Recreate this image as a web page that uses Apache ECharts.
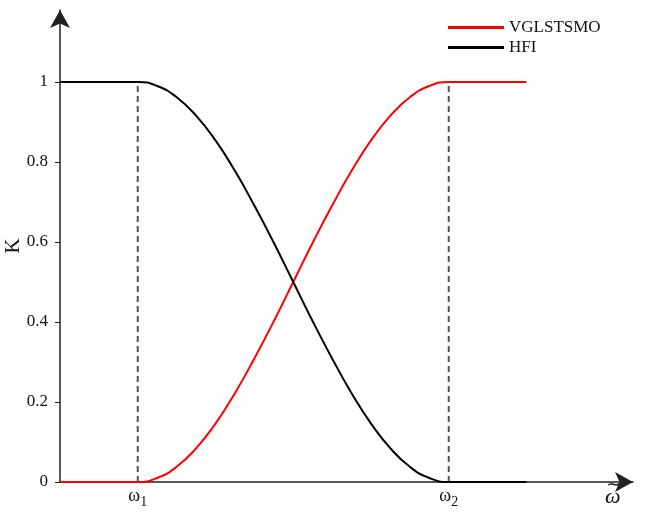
<!DOCTYPE html>
<html>
<head>
<meta charset="utf-8">
<script src="https://cdn.jsdelivr.net/npm/echarts@6/dist/echarts.min.js"></script>
<style>html,body{margin:0;padding:0;background:#fff}#c{width:648px;height:512px}</style>
</head>
<body>
<div id="c"></div>
<script>
// x positions (ω1 = 1, ω2 = 5)
var xs = [0, 1, 1.25, 1.5, 1.75, 2, 2.25, 2.5, 2.75, 3, 3.25, 3.5, 3.75, 4, 4.25, 4.5, 4.75, 5, 6];
var hfi = [1, 1, 0.990, 0.962, 0.916, 0.854, 0.778, 0.691, 0.598, 0.5, 0.402, 0.309, 0.222, 0.146, 0.084, 0.038, 0.010, 0, 0];
var vgl = [0, 0, 0.010, 0.038, 0.084, 0.146, 0.222, 0.309, 0.402, 0.5, 0.598, 0.691, 0.778, 0.854, 0.916, 0.962, 0.990, 1, 1];
var omegaMarks = [1, 5];
var omegaLabels = ['1', '2'];
var yTicks = [0, 0.2, 0.4, 0.6, 0.8, 1];
var seriesNames = ['VGLSTSMO', 'HFI'];

function pairs(x, y) { return x.map(function (v, i) { return [v, y[i]]; }); }

var font = 'Liberation Serif, Times New Roman, serif';
var chart = echarts.init(document.getElementById('c'), null, { renderer: 'canvas' });

var dashSeries = omegaMarks.map(function (m) {
  return {
    type: 'line', data: [[m, 0], [m, 1]], symbol: 'none', silent: true,
    lineStyle: { color: '#555', width: 2, type: [6, 4] }, z: 1
  };
});

chart.setOption({
  animation: false,
  backgroundColor: '#fff',
  grid: { left: 60, right: 15, top: 10, bottom: 30, containLabel: false, outerBoundsMode: 'none' },
  legend: {
    data: seriesNames, orient: 'vertical', left: 443, top: 14,
    itemWidth: 56, itemHeight: 3, itemGap: 3, icon: 'rect',
    textStyle: { fontFamily: font, fontSize: 17, color: '#111' }
  },
  xAxis: {
    type: 'value', min: 0, max: 7.37, interval: 1,
    splitLine: { show: false },
    axisLine: { lineStyle: { color: '#222', width: 1.5 }, symbol: ['none', 'arrow'], symbolSize: [15, 18] },
    axisTick: { show: false },
    axisLabel: {
      margin: 2,
      formatter: function (v) {
        var i = omegaMarks.indexOf(v);
        return i < 0 ? '' : '{w|ω}{s|' + omegaLabels[i] + '}';
      },
      rich: {
        w: { fontFamily: font, fontSize: 18, color: '#111' },
        s: { fontFamily: font, fontSize: 14, color: '#111', padding: [11, 0, 0, 0] }
      }
    }
  },
  yAxis: {
    type: 'value', min: 0, max: 1.18,
    splitLine: { show: false },
    name: 'K', nameLocation: 'middle', nameRotate: 90, nameGap: 36, nameMoveOverlap: false,
    nameTextStyle: { fontFamily: font, fontSize: 21, color: '#111' },
    axisLine: { lineStyle: { color: '#222', width: 1.5 }, symbol: ['none', 'arrow'], symbolSize: [15, 18] },
    axisTick: { show: true, length: 5, customValues: yTicks, lineStyle: { color: '#222' } },
    axisLabel: {
      customValues: yTicks, margin: 12,
      fontFamily: font, fontSize: 17, color: '#111',
      formatter: function (v) { return String(v); }
    }
  },
  graphic: [
    { type: 'text', left: 605, top: 486, style: { text: 'ω', font: 'italic 22px ' + font, fill: '#111' } },
    { type: 'text', left: 606, top: 476, style: { text: '∼', font: '18px DejaVu Serif', fill: '#111' } }
  ],
  series: dashSeries.concat([
    {
      name: seriesNames[0], type: 'line', data: pairs(xs, vgl), symbol: 'none', smooth: 0.5,
      lineStyle: { color: '#ff0000', width: 2 }, itemStyle: { color: '#ff0000' }, z: 3
    },
    {
      name: seriesNames[1], type: 'line', data: pairs(xs, hfi), symbol: 'none', smooth: 0.5,
      lineStyle: { color: '#000', width: 2 }, itemStyle: { color: '#000' }, z: 3
    }
  ])
});
</script>
</body>
</html>
